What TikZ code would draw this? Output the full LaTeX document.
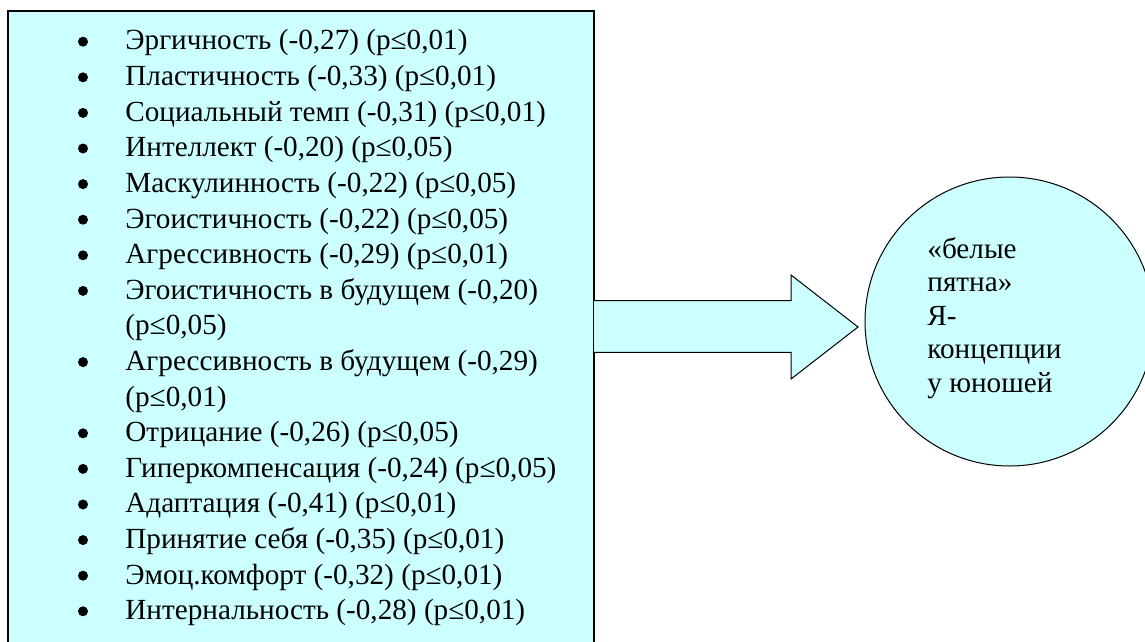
\documentclass[tikz,border=0pt]{standalone}
\usepackage{fontspec}
\setmainfont{Liberation Serif}
\definecolor{paleblue}{RGB}{204,255,255}
\tikzset{
  item text/.style={anchor=base west, inner sep=0pt, font=\fontsize{14.6}{17.8}\selectfont},
  spot text/.style={anchor=base west, inner sep=0pt, align=left, font=\fontsize{14.6}{16.75}\selectfont},
  pale fill/.style={fill=paleblue, draw=black}
}
\begin{document}
\begin{tikzpicture}[x=0.5pt, y=-0.5pt]
    \clip (0,0) rectangle (1145,642);
    \fill[white] (0,0) rectangle (1145,642);
    % list box, runs past the bottom edge
    \draw[pale fill, line width=1pt] (8,11) rectangle (594,660);
    \foreach \b/\t [count=\i from 0, evaluate=\i as \y using 50+35.6*\i] in {
        {1/Эргичность (-0,27) (p≤0,01)},
        {1/Пластичность (-0,33) (p≤0,01)},
        {1/Социальный темп (-0,31) (p≤0,01)},
        {1/Интеллект (-0,20) (p≤0,05)},
        {1/Маскулинность (-0,22) (p≤0,05)},
        {1/Эгоистичность (-0,22) (p≤0,05)},
        {1/Агрессивность (-0,29) (p≤0,01)},
        {1/Эгоистичность в будущем (-0,20)},
        {0/(p≤0,05)},
        {1/Агрессивность в будущем (-0,29)},
        {0/(p≤0,01)},
        {1/Отрицание (-0,26) (p≤0,05)},
        {1/Гиперкомпенсация (-0,24) (p≤0,05)},
        {1/Адаптация (-0,41) (p≤0,01)},
        {1/Принятие себя (-0,35) (p≤0,01)},
        {1/Эмоц.комфорт (-0,32) (p≤0,01)},
        {1/Интернальность (-0,28) (p≤0,01)}} {
        \node[item text] (item\i) at (125,\y) {\t};
        \ifnum\b=1 \fill (83,\y-8.3) circle (5); \fi
    }
    % block arrow
    \draw[pale fill, line width=0.5pt] (594,300.7) -- (791,300.7) -- (791,275)
        -- (858,327) -- (791,379) -- (791,352.3) -- (594,352.3);
    % circle
    \node[circle, pale fill, line width=0.5pt, minimum size=144.5pt, inner sep=0pt]
        (spot) at (1009.5,321.5) {};
    % base anchor sits on the last line
    \node[spot text] (spottext) at (927,392)
        {«белые\\пятна»\\Я-\\концепции\\у юношей};
\end{tikzpicture}
\end{document}
